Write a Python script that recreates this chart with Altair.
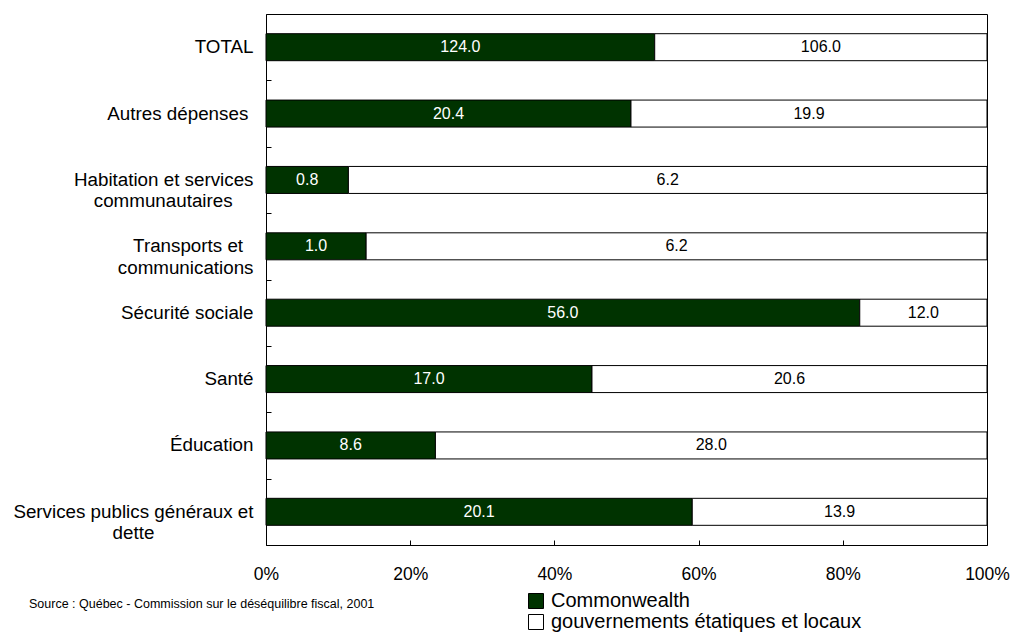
import altair as alt
import pandas as pd

# ---- data ----
categories = [
    "TOTAL",
    "Autres dépenses",
    "Habitation et services communautaires",
    "Transports et communications",
    "Sécurité sociale",
    "Santé",
    "Éducation",
    "Services publics généraux et dette",
]
commonwealth = [124.0, 20.4, 0.8, 1.0, 56.0, 17.0, 8.6, 20.1]
etats_locaux = [106.0, 19.9, 6.2, 6.2, 12.0, 20.6, 28.0, 13.9]
series_names = ["Commonwealth", "gouvernements étatiques et locaux"]
x_ticks = [0, 0.2, 0.4, 0.6, 0.8, 1.0]
source_note = "Source : Québec - Commission sur le déséquilibre fiscal, 2001"

# ---- axis label line layout (lines centred within each label block) ----
NB = "\u00a0"
END = "\u200b"  # zero-width terminator so trailing padding is kept


def pad(line, n):
    return line + NB * n + END


label_lines = {
    "Autres dépenses": [pad("Autres dépenses", 1)],
    "Habitation et services communautaires": ["Habitation et services", pad("communautaires", 4)],
    "Transports et communications": [pad("Transports et", 2), "communications"],
    "Services publics généraux et dette": ["Services publics généraux et", pad("dette", 19)],
}
display = ["|".join(label_lines.get(c, [c])) for c in categories]

rows = []
for i, c in enumerate(categories):
    rows.append({"cat": display[i], "series": series_names[0], "order": 0, "value": commonwealth[i]})
    rows.append({"cat": display[i], "series": series_names[1], "order": 1, "value": etats_locaux[i]})
df = pd.DataFrame(rows)

FONT = "Liberation Sans"
W, H = 721, 531

xscale = alt.Scale(domain=[0, 1], nice=False)
yscale = alt.Scale(paddingInner=0, paddingOuter=0)

base = alt.Chart(df).transform_stack(
    as_=["x0", "x1"],
    stack="value",
    groupby=["cat"],
    offset="normalize",
    sort=[alt.SortField(field="order", order="ascending")],
).transform_calculate(mid="(datum.x0 + datum.x1) / 2")

bars = base.mark_bar(size=27, stroke="black", strokeWidth=1).encode(
    x=alt.X(
        "x0:Q",
        scale=xscale,
        title=None,
        axis=alt.Axis(
            format=".0%", values=x_ticks, ticks=False, tickSize=0, domain=False, grid=False,
            labelFlush=False, labelAlign="center",
            labelFontSize=17.5, labelPadding=20, labelColor="black", labelFont=FONT,
        ),
    ),
    x2="x1:Q",
    y=alt.Y(
        "cat:N",
        sort=display,
        scale=yscale,
        title=None,
        axis=alt.Axis(
            ticks=False, tickSize=0, domain=False, grid=False,
            labelExpr="split(datum.label, '|')",
            labelFontSize=18.8, labelPadding=13, labelLimit=500, labelLineHeight=21.5,
            labelAlign="right", labelBaseline="middle", labelColor="black", labelFont=FONT,
        ),
    ),
    color=alt.Color(
        "series:N",
        scale=alt.Scale(domain=series_names, range=["#003300", "#ffffff"]),
        legend=alt.Legend(
            orient="none", legendX=260, legendY=577, title=None, direction="vertical",
            symbolType="square", symbolSize=225, symbolStrokeColor="black", symbolStrokeWidth=1,
            labelFontSize=20, labelOffset=5, rowPadding=1, labelLimit=600, padding=0,
            labelFont=FONT, labelColor="black",
        ),
    ),
)

value_labels = base.mark_text(fontSize=16, font=FONT, baseline="middle").encode(
    x=alt.X(
        "mid:Q",
        scale=xscale,
        title=None,
        axis=alt.Axis(
            orient="top", offset=-H, labels=False, ticks=True, tickSize=5, tickColor="black",
            tickWidth=1, domain=False, grid=False, values=x_ticks,
        ),
    ),
    y=alt.Y(
        "cat:N",
        sort=display,
        scale=yscale,
        title=None,
        axis=alt.Axis(
            orient="right", offset=-W, labels=False, ticks=True, tickSize=5, tickColor="black",
            tickWidth=1, domain=False, grid=False, tickBand="extent",
        ),
    ),
    text=alt.Text("value:Q", format=".1f"),
    color=alt.condition(alt.datum.series == series_names[0], alt.value("white"), alt.value("black")),
)

src = alt.Chart(pd.DataFrame({"t": [source_note]})).mark_text(
    align="left", baseline="middle", fontSize=12.5, font=FONT, color="black"
).encode(x=alt.value(-237), y=alt.value(590), text="t:N")

chart = (
    alt.layer(bars, value_labels, src)
    .resolve_axis(x="independent", y="independent")
    .properties(
        width=W,
        height=H,
        autosize=alt.AutoSizeParams(type="none"),
        padding={"left": 266, "top": 14, "right": 26, "bottom": 87},
        background="white",
    )
    .configure_view(stroke="black", strokeWidth=1)
)

chart.save("out.html", embed_options={"renderer": "svg", "actions": False})
